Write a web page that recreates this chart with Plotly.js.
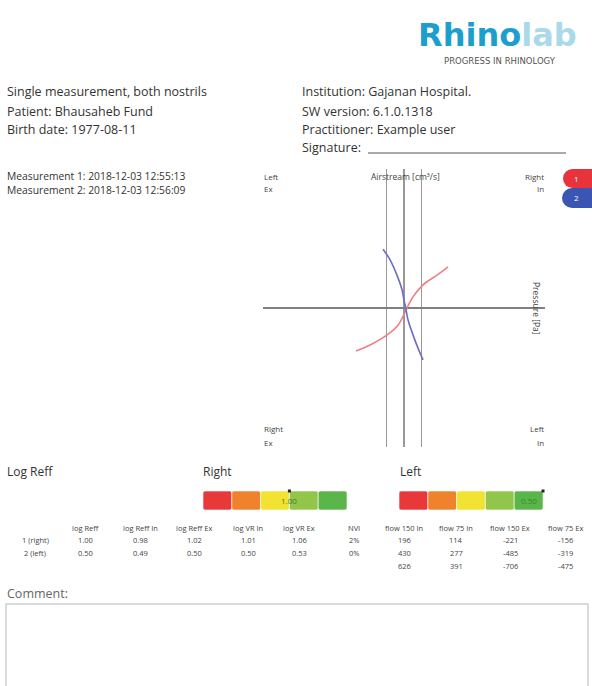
<!DOCTYPE html>
<html>
<head>
<meta charset="utf-8">
<script src="https://cdn.plot.ly/plotly-3.0.1.min.js"></script>
<style>html,body{margin:0;padding:0;background:#fff;}#chart{width:592px;height:686px;}</style>
</head>
<body>
<div id="chart"></div>
<script>
// ---- data ----
const flowRed = [-272, -193, -96, -34, 6, 17, 51, 108, 187, 250];
const pressRed = [-93, -80, -58, -37, -9, 0, 24, 50, 71, 89];
const flowBlue = [-119, -79, -40, -11, 0, 10, 23, 51, 79, 108];
const pressBlue = [127, 104, 71, 39, 17, 0, -26, -58, -86, -112];
const flowGuides = [-100, 0, 100];

const reffBreaks = [1.75, 1.5, 1.25, 1.0, 0.75, 0.5];
const reffColors = ['#e8383a', '#f0822e', '#f2e232', '#92c64a', '#5ab648'];
const reffRight = 1.00;
const reffLeft = 0.50;

const tableHeaders = ['log Reff', 'log Reff In', 'log Reff Ex', 'log VR In', 'log VR Ex', 'NVI', 'flow 150 In', 'flow 75 In', 'flow 150 Ex', 'flow 75 Ex'];
const rowLabels = ['1 (right)', '2 (left)', ''];
const row1 = ['1.00', '0.98', '1.02', '1.01', '1.06', '2%', '196', '114', '-221', '-156'];
const row2 = ['0.50', '0.49', '0.50', '0.50', '0.53', '0%', '430', '277', '-485', '-319'];
const row3 = ['', '', '', '', '', '', '626', '391', '-706', '-475'];

// ---- layout helpers ----
const W = 592, H = 686;
const X = px => px / W;
const Y = py => 1 - py / H;
const FONT = '"Open Sans", Roboto, "Liberation Sans", sans-serif';
const annotations = [];
function txt(text, px, py, opt) {
  opt = opt || {};
  annotations.push(Object.assign({
    text: text, xref: 'paper', yref: 'paper', x: X(px), y: Y(py),
    xanchor: opt.xanchor || 'left', yanchor: 'middle', showarrow: false, borderpad: 0,
    font: {family: opt.family || FONT, size: opt.size || 12.5, color: opt.color || '#333'}
  }, opt.extra || {}));
}

// header
txt('<b><span style="color:#1c9fcc">Rhino</span><span style="color:#a9d9ea">lab</span></b>', 417, 35, {size: 32, family: '"DejaVu Sans", sans-serif'});
txt('PROGRESS IN RHINOLOGY', 500, 61, {size: 8.5, xanchor: 'center', color: '#555', family: '"DejaVu Sans", sans-serif'});

txt('Single measurement, both nostrils', 6, 92);
txt('Patient: Bhausaheb Fund', 6, 111);
txt('Birth date: 1977-08-11', 6, 129);
txt('Institution: Gajanan Hospital.', 301, 92);
txt('SW version: 6.1.0.1318', 301, 111);
txt('Practitioner: Example user', 301, 130);
txt('Signature:', 301, 148);
txt('Measurement 1: 2018-12-03 12:55:13', 6, 176, {size: 10.3});
txt('Measurement 2: 2018-12-03 12:56:09', 6, 190, {size: 10.3});

// chart labels
const cl = {size: 8, color: '#444'};
txt('Left', 263, 176, cl); txt('Ex', 263, 189, cl);
txt('Right', 545, 176, Object.assign({xanchor: 'right'}, cl)); txt('In', 545, 189, Object.assign({xanchor: 'right'}, cl));
txt('Right', 263, 428, cl); txt('Ex', 263, 442, cl);
txt('Left', 545, 428, Object.assign({xanchor: 'right'}, cl)); txt('In', 545, 442, Object.assign({xanchor: 'right'}, cl));
txt('Airstream [cm³/s]', 405, 176, {size: 8.5, xanchor: 'center', color: '#444'});
txt('Pressure [Pa]', 537, 308, {size: 8.5, xanchor: 'center', color: '#444', extra: {textangle: 90}});
txt('1', 576, 178, {size: 8, xanchor: 'center', color: '#fff'});
txt('2', 576, 198, {size: 8, xanchor: 'center', color: '#fff'});

// bar section
txt('Log Reff', 6, 471, {size: 12});
txt('Right', 202, 471, {size: 12});
txt('Left', 399, 471, {size: 12});

// table
const colX = [86, 140, 194, 248, 299, 354, 404, 456, 510, 565];
const rowY = [540, 553, 566];
const tf = {size: 7.5, xanchor: 'center', color: '#444'};
tableHeaders.forEach((h, i) => txt(h, colX[i], 528, tf));
[row1, row2, row3].forEach((r, j) => {
  if (rowLabels[j]) txt(rowLabels[j], 35, rowY[j], tf);
  r.forEach((v, i) => { if (v) txt(v, colX[i], rowY[j], tf); });
});

txt('Comment:', 6, 593, {size: 12.5, color: '#666'});

// bar value labels
annotations.push({text: reffRight.toFixed(2), xref: 'x2', yref: 'y2', x: reffRight, y: 0, showarrow: false,
  xanchor: 'center', font: {family: FONT, size: 8, color: '#3c7c2c'}});
annotations.push({text: reffLeft.toFixed(2), xref: 'x3', yref: 'y3', x: reffLeft, y: 0, showarrow: false,
  xanchor: 'right', xshift: -4, font: {family: FONT, size: 8, color: '#2f8a2f'}});

// shapes
const shapes = [
  {type: 'line', xref: 'paper', yref: 'paper', x0: X(368), x1: X(566), y0: Y(153), y1: Y(153), line: {color: '#555', width: 1}},
  {type: 'rect', xref: 'paper', yref: 'paper', x0: X(6), x1: X(588), y0: Y(604), y1: Y(700), line: {color: '#d0d0d0', width: 1.5}},
  // legend pills (blue first, red on top)
  {type: 'rect', xref: 'paper', yref: 'paper', x0: X(572), x1: X(600), y0: Y(188), y1: Y(208), fillcolor: '#3b56b2', line: {width: 0}},
  {type: 'circle', xref: 'paper', yref: 'paper', x0: X(562), x1: X(582), y0: Y(188), y1: Y(208), fillcolor: '#3b56b2', line: {width: 0}},
  {type: 'rect', xref: 'paper', yref: 'paper', x0: X(572), x1: X(600), y0: Y(169), y1: Y(188), fillcolor: '#e8323c', line: {width: 0}},
  {type: 'circle', xref: 'paper', yref: 'paper', x0: X(563), x1: X(582), y0: Y(169), y1: Y(188), fillcolor: '#e8323c', line: {width: 0}}
];

// bar segments derived from breaks
const segStart = reffBreaks.slice(1);
const segWidth = reffBreaks.slice(0, -1).map((b, i) => b - reffBreaks[i + 1]);

const traces = [
  {x: flowRed, y: pressRed, type: 'scatter', mode: 'lines', line: {color: '#f07c86', width: 1.6, shape: 'spline'}, xaxis: 'x', yaxis: 'y'},
  {x: flowBlue, y: pressBlue, type: 'scatter', mode: 'lines', line: {color: '#6d6dc6', width: 1.6, shape: 'spline'}, xaxis: 'x', yaxis: 'y'},
  {type: 'bar', orientation: 'h', x: segWidth, base: segStart, y: segStart.map(() => 0), width: 1,
   marker: {color: reffColors, line: {width: 0.6, color: '#fff'}, cornerradius: 2}, xaxis: 'x2', yaxis: 'y2'},
  {type: 'bar', orientation: 'h', x: segWidth, base: segStart, y: segStart.map(() => 0), width: 1,
   marker: {color: reffColors, line: {width: 0.6, color: '#fff'}, cornerradius: 2}, xaxis: 'x3', yaxis: 'y3'},
  {x: [reffRight], y: [0.5], type: 'scatter', mode: 'markers', marker: {symbol: 'square', size: 3, color: '#222'}, cliponaxis: false, xaxis: 'x2', yaxis: 'y2'},
  {x: [reffLeft], y: [0.5], type: 'scatter', mode: 'markers', marker: {symbol: 'square', size: 3, color: '#222'}, cliponaxis: false, xaxis: 'x3', yaxis: 'y3'}
];

const hidden = {showgrid: false, zeroline: false, showticklabels: false, showline: false, ticks: '', fixedrange: true};

const layout = {
  width: W, height: H, margin: {l: 0, r: 0, t: 0, b: 0, pad: 0},
  paper_bgcolor: '#fff', plot_bgcolor: 'rgba(0,0,0,0)', showlegend: false, barmode: 'overlay',
  xaxis: {domain: [X(263), X(545)], range: [-800, 800], tickvals: flowGuides, showgrid: true, gridcolor: '#999', gridwidth: 1.3,
          zeroline: false, showticklabels: false, showline: false, ticks: ''},
  yaxis: {domain: [Y(447), Y(169)], range: [-300, 300], showgrid: false, zeroline: true, zerolinecolor: '#808080', zerolinewidth: 1.2,
          showticklabels: false, showline: false, ticks: ''},
  xaxis2: Object.assign({domain: [X(203), X(347)], range: [1.75, 0.5], anchor: 'y2'}, hidden),
  yaxis2: Object.assign({domain: [Y(510), Y(491)], range: [-0.5, 0.5], anchor: 'x2'}, hidden),
  xaxis3: Object.assign({domain: [X(399), X(543)], range: [1.75, 0.5], anchor: 'y3'}, hidden),
  yaxis3: Object.assign({domain: [Y(510), Y(491)], range: [-0.5, 0.5], anchor: 'x3'}, hidden),
  annotations: annotations, shapes: shapes
};

Plotly.newPlot('chart', traces, layout, {staticPlot: true, displayModeBar: false});
</script>
</body>
</html>
